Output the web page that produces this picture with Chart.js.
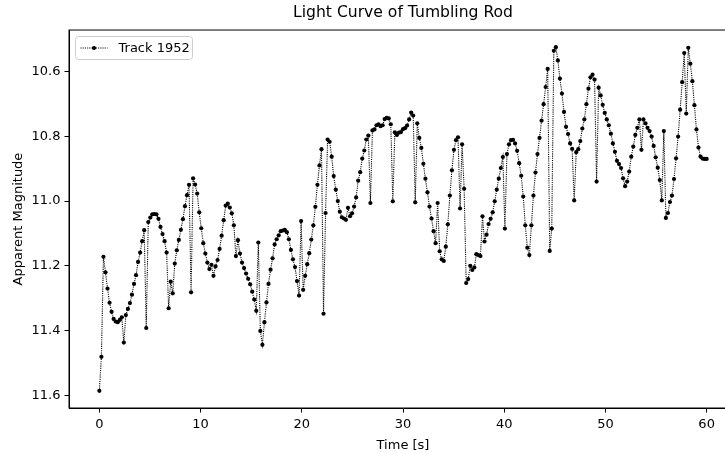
<!DOCTYPE html>
<html>
<head>
<meta charset="utf-8">
<title>Light Curve of Tumbling Rod</title>
<script src="https://cdn.jsdelivr.net/npm/chart.js@4.4.1/dist/chart.umd.min.js"></script>
<style>
  html, body { margin: 0; padding: 0; background: #fff; overflow: hidden; }
  #wrap { width: 760px; height: 453px; }
</style>
</head>
<body>
<div id="wrap"><canvas id="lightCurve" width="760" height="453"></canvas></div>
<script>
// Track 1952: 299 samples spread evenly over 0..60 s
const T_START = 0;
const T_END = 60;
const SAMPLE_COUNT = 299;

// apparent magnitude, one value per sample
const magnitude = [
  11.586, 11.481, 11.172, 11.220, 11.270, 11.314, 11.342, 11.364, 11.372, 11.374,
  11.367, 11.359, 11.437, 11.352, 11.333, 11.315, 11.289, 11.256, 11.229, 11.188,
  11.159, 11.124, 11.090, 11.392, 11.065, 11.051, 11.041, 11.040, 11.041, 11.055,
  11.080, 11.102, 11.124, 11.159, 11.331, 11.249, 11.285, 11.193, 11.152, 11.120,
  11.089, 11.056, 11.016, 10.982, 10.950, 11.282, 10.930, 10.949, 10.977, 11.035,
  11.084, 11.130, 11.162, 11.190, 11.210, 11.197, 11.231, 11.202, 11.182, 11.148,
  11.107, 11.059, 11.014, 11.008, 11.020, 11.038, 11.075, 11.170, 11.121, 11.162,
  11.190, 11.207, 11.224, 11.240, 11.257, 11.280, 11.304, 11.339, 11.128, 11.401,
  11.444, 11.374, 11.313, 11.256, 11.212, 11.177, 11.134, 11.118, 11.106, 11.093,
  11.091, 11.089, 11.096, 11.118, 11.151, 11.180, 11.204, 11.247, 11.292, 11.062,
  11.274, 11.231, 11.195, 11.161, 11.119, 11.075, 11.018, 10.950, 10.890, 10.840,
  11.348, 11.037, 10.810, 10.817, 10.863, 10.923, 10.965, 11.000, 11.033, 11.050,
  11.054, 11.058, 11.021, 11.047, 11.038, 11.017, 10.989, 10.937, 10.911, 10.869,
  10.844, 10.810, 10.798, 11.006, 10.782, 10.779, 10.766, 10.763, 10.769, 10.766,
  10.747, 10.743, 10.745, 10.763, 11.001, 10.788, 10.796, 10.789, 10.787, 10.778,
  10.775, 10.767, 10.748, 10.727, 10.736, 11.004, 10.760, 10.805, 10.836, 10.885,
  10.931, 10.973, 11.017, 11.054, 11.093, 11.130, 11.006, 11.155, 11.180, 11.185,
  11.141, 11.072, 10.983, 10.905, 10.842, 10.812, 10.803, 11.023, 10.825, 10.962,
  11.253, 11.241, 11.200, 11.213, 11.205, 11.164, 11.167, 11.170, 11.047, 11.125,
  11.104, 11.071, 11.055, 11.035, 11.001, 10.965, 10.931, 10.898, 10.864, 11.085,
  10.855, 10.825, 10.812, 10.811, 10.822, 10.845, 10.883, 10.922, 10.986, 11.075,
  11.144, 11.167, 11.075, 10.983, 10.912, 10.855, 10.805, 10.752, 10.701, 10.648,
  10.592, 11.154, 11.085, 10.536, 10.525, 10.566, 10.622, 10.668, 10.725, 10.771,
  10.793, 10.822, 10.839, 10.998, 10.849, 10.840, 10.815, 10.776, 10.748, 10.701,
  10.653, 10.618, 10.610, 10.625, 10.940, 10.650, 10.674, 10.703, 10.728, 10.748,
  10.766, 10.792, 10.822, 10.848, 10.876, 10.886, 10.898, 10.930, 10.954, 10.940,
  10.909, 10.863, 10.832, 10.796, 10.774, 10.748, 10.842, 10.748, 10.760, 10.774,
  10.784, 10.801, 10.830, 10.865, 10.897, 10.935, 10.998, 10.784, 11.052, 11.037,
  11.003, 10.983, 10.932, 10.868, 10.801, 10.718, 10.633, 10.543, 10.730, 10.527,
  10.576, 10.630, 10.704, 10.779, 10.835, 10.863, 10.869, 10.870, 10.870
];

const xTicks = [0, 10, 20, 30, 40, 50, 60];
const yTicks = [10.6, 10.8, 11.0, 11.2, 11.4, 11.6];

const FONT = 'DejaVu Sans';

// sample times (even grid)
const dt = (T_END - T_START) / (SAMPLE_COUNT - 1);
const points = magnitude.map((m, i) => ({ x: T_START + i * dt, y: m }));

// frame + legend box drawn like matplotlib
const frameAndLegend = {
  id: 'frameAndLegend',
  afterDraw(chart) {
    const { ctx, chartArea: a } = chart;
    ctx.save();
    ctx.strokeStyle = '#000';
    ctx.lineWidth = 1;
    ctx.strokeRect(a.left, a.top, a.right - a.left, a.bottom - a.top);

    // legend
    const lx = a.left + 6.5, ly = a.top + 6.5, lw = 117, lh = 23;
    ctx.beginPath();
    ctx.roundRect(lx, ly, lw, lh, 3);
    ctx.fillStyle = 'rgba(255,255,255,0.8)';
    ctx.fill();
    ctx.strokeStyle = '#cccccc';
    ctx.stroke();

    const cy = ly + lh / 2;
    ctx.strokeStyle = '#000';
    ctx.lineWidth = 1.1;
    ctx.setLineDash([1.1, 1.1]);
    ctx.beginPath();
    ctx.moveTo(lx + 5, cy);
    ctx.lineTo(lx + 32, cy);
    ctx.stroke();
    ctx.setLineDash([]);
    ctx.fillStyle = '#000';
    ctx.beginPath();
    ctx.arc(lx + 18.5, cy, 2.1, 0, Math.PI * 2);
    ctx.fill();

    ctx.font = '13px "' + FONT + '"';
    ctx.textBaseline = 'middle';
    ctx.textAlign = 'left';
    ctx.fillText('Track 1952', lx + 43, cy + 0.5);
    ctx.restore();
  }
};

new Chart(document.getElementById('lightCurve'), {
  type: 'scatter',
  data: {
    datasets: [{
      label: 'Track 1952',
      data: points,
      showLine: true,
      borderColor: '#000',
      borderWidth: 1.1,
      borderDash: [1.1, 1.1],
      backgroundColor: '#000',
      pointRadius: 2.1,
      pointBorderWidth: 0,
      pointHoverRadius: 2.1,
      tension: 0
    }]
  },
  options: {
    responsive: false,
    animation: false,
    layout: { padding: { left: 0, right: 23, top: 0, bottom: 0 } },
    plugins: {
      legend: { display: false },
      tooltip: { enabled: false },
      title: {
        display: true,
        text: 'Light Curve of Tumbling Rod',
        fullSize: false,
        color: '#000',
        font: { family: FONT, size: 15.6, weight: 'normal' },
        padding: { top: 4, bottom: 7.3 }
      }
    },
    scales: {
      x: {
        type: 'linear',
        min: -3,
        max: 63,
        afterBuildTicks: s => { s.ticks = xTicks.map(v => ({ value: v })); },
        afterFit: s => { s.height = 45; },
        grid: { drawOnChartArea: false, drawTicks: true, tickLength: 4.5, color: '#000' },
        border: { display: true, color: '#000', width: 1 },
        ticks: {
          color: '#000',
          padding: 4,
          maxRotation: 0,
          font: { family: FONT, size: 13 },
          callback: v => String(v)
        },
        title: {
          display: true,
          text: 'Time [s]',
          color: '#000',
          font: { family: FONT, size: 13 },
          padding: { top: 3, bottom: 0 }
        }
      },
      y: {
        type: 'linear',
        reverse: true,
        min: 10.472,
        max: 11.639,
        afterBuildTicks: s => { s.ticks = yTicks.map(v => ({ value: v })); },
        afterFit: s => { s.width = 69; },
        grid: { drawOnChartArea: false, drawTicks: true, tickLength: 4.5, color: '#000' },
        border: { display: true, color: '#000', width: 1 },
        ticks: {
          color: '#000',
          padding: 4,
          font: { family: FONT, size: 13 },
          callback: v => Number(v).toFixed(1)
        },
        title: {
          display: true,
          text: 'Apparent Magnitude',
          color: '#000',
          font: { family: FONT, size: 13 },
          padding: { top: 10.5, bottom: 0 }
        }
      }
    }
  },
  plugins: [frameAndLegend]
});
</script>
</body>
</html>
